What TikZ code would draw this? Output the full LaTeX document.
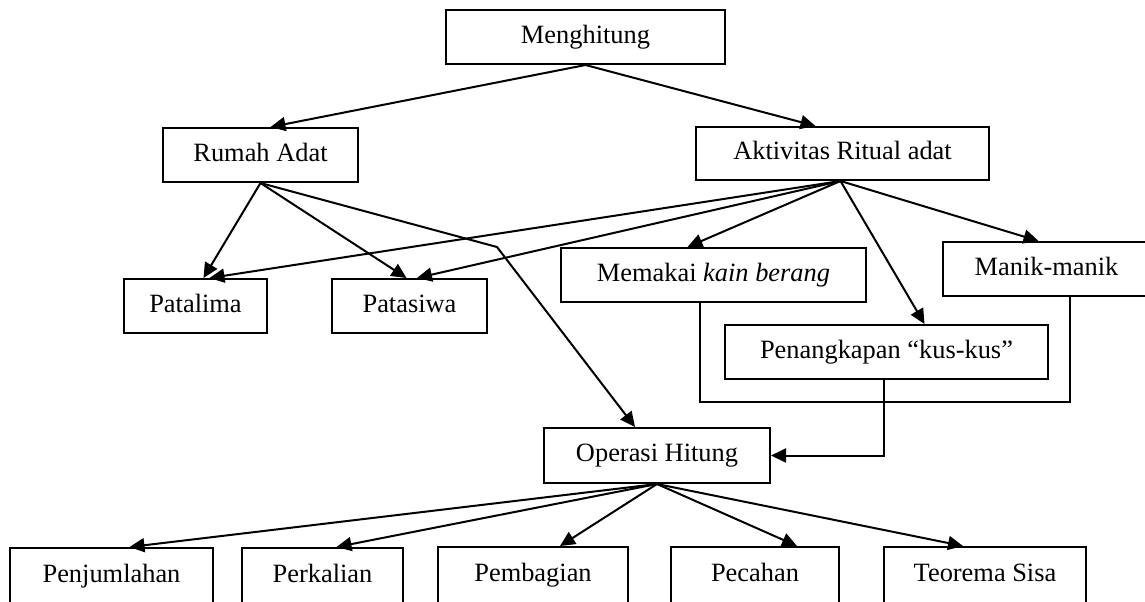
\documentclass[tikz,border=0pt]{standalone}
\usepackage{fontspec}
\setmainfont{Liberation Serif}
\usepackage{tikz}
\usetikzlibrary{calc,arrows.meta}
\tikzset{
  box/.style={draw=black, line width=1pt, inner sep=0pt, minimum height=27pt,
    text height=9.3pt, text depth=2.9pt, font=\fontsize{13.2}{15}\selectfont},
  arr/.style={-{Triangle[length=7.5pt, width=7pt]}, line width=1pt, draw=black},
  link/.style={line width=1pt, draw=black},
}
\begin{document}
\begin{tikzpicture}[x=0.5pt, y=-0.5pt]  % 1 Einheit = 1 px der Vorlage
  \useasboundingbox (0,0) rectangle (1145,601);
  % Kopf
  \node[box, minimum width=139.5pt] (menghitung) at (585.5,37) {Menghitung};
  \node[box, minimum width=97.5pt] (rumah) at (260.5,155) {Rumah Adat};
  \node[box, minimum width=146.5pt, minimum height=26.5pt] (aktivitas) at (842.5,153.5) {Aktivitas Ritual adat};
  % zweite Ebene
  \node[box, minimum width=71.5pt] (patalima) at (195.5,306) {Patalima};
  \node[box, minimum width=77.5pt] (patasiwa) at (409.5,306) {Patasiwa};
  \node[box, minimum width=152.5pt] (memakai) at (713.5,275) {Memakai \textit{kain berang}};
  \node[box, minimum width=103.5pt] (manik) at (1046.5,269) {Manik-manik};
  \node[box, minimum width=161.5pt] (penangkapan) at (886.5,352) {Penangkapan “kus-kus”};
  \node[box, minimum width=113pt, minimum height=27.5pt] (operasi) at (657,455.5) {Operasi Hitung};
  % untere Reihe (unten abgeschnitten)
  \node[box, minimum width=101.5pt, minimum height=28pt] (penjumlahan) at (111.5,576) {Penjumlahan};
  \node[box, minimum width=80.5pt, minimum height=28pt] (perkalian) at (322.5,576) {Perkalian};
  \node[box, minimum width=95pt, minimum height=28.5pt] (pembagian) at (533,575.5) {Pembagian};
  \node[box, minimum width=84pt, minimum height=28.5pt] (pecahan) at (755,575.5) {Pecahan};
  \node[box, minimum width=101pt, minimum height=28.5pt] (teorema) at (985,575.5) {Teorema Sisa};
  % Hilfspunkte
  \coordinate (knick) at (497,247);
  \coordinate (rahmenL) at (700,402);
  \coordinate (rahmenR) at (1070,402);
  % Pfeile
  \draw[arr] (menghitung.south) -- ([xshift=5pt]rumah.north);
  \draw[arr] (menghitung.south) -- ([xshift=-13.5pt]aktivitas.north);
  \draw[arr] (rumah.south) -- ([xshift=4pt]patalima.north);
  \draw[arr] (rumah.south) -- ([xshift=-1.5pt]patasiwa.north);
  \draw[arr] (rumah.south) -- (knick) -- ([xshift=-11pt]operasi.north);
  \draw[arr] ([xshift=-1pt]aktivitas.south) -- ([xshift=7pt]patalima.north);
  \draw[arr] ([xshift=-1pt]aktivitas.south) -- ([xshift=3.75pt]patasiwa.north);
  \draw[arr] ([xshift=-1pt]aktivitas.south) -- ([xshift=-13pt]memakai.north);
  \draw[arr] ([xshift=-1pt]aktivitas.south) -- ([xshift=19pt]penangkapan.north);
  \draw[arr] ([xshift=-1pt]aktivitas.south) -- ([xshift=-4pt]manik.north);
  \draw[link] (memakai.south -| rahmenL) -- (rahmenL) -- (rahmenR) -- (manik.south -| rahmenR);
  \draw[arr] ([xshift=-1.25pt]penangkapan.south) |- (operasi.east);
  \draw[arr] (operasi.south) -- ([xshift=9pt]penjumlahan.north);
  \draw[arr] (operasi.south) -- ([xshift=7pt]perkalian.north);
  \draw[arr] (operasi.south) -- ([xshift=13.5pt]pembagian.north);
  \draw[arr] (operasi.south) -- ([xshift=21pt]pecahan.north);
  \draw[arr] (operasi.south) -- ([xshift=-11pt]teorema.north);
\end{tikzpicture}
\end{document}
